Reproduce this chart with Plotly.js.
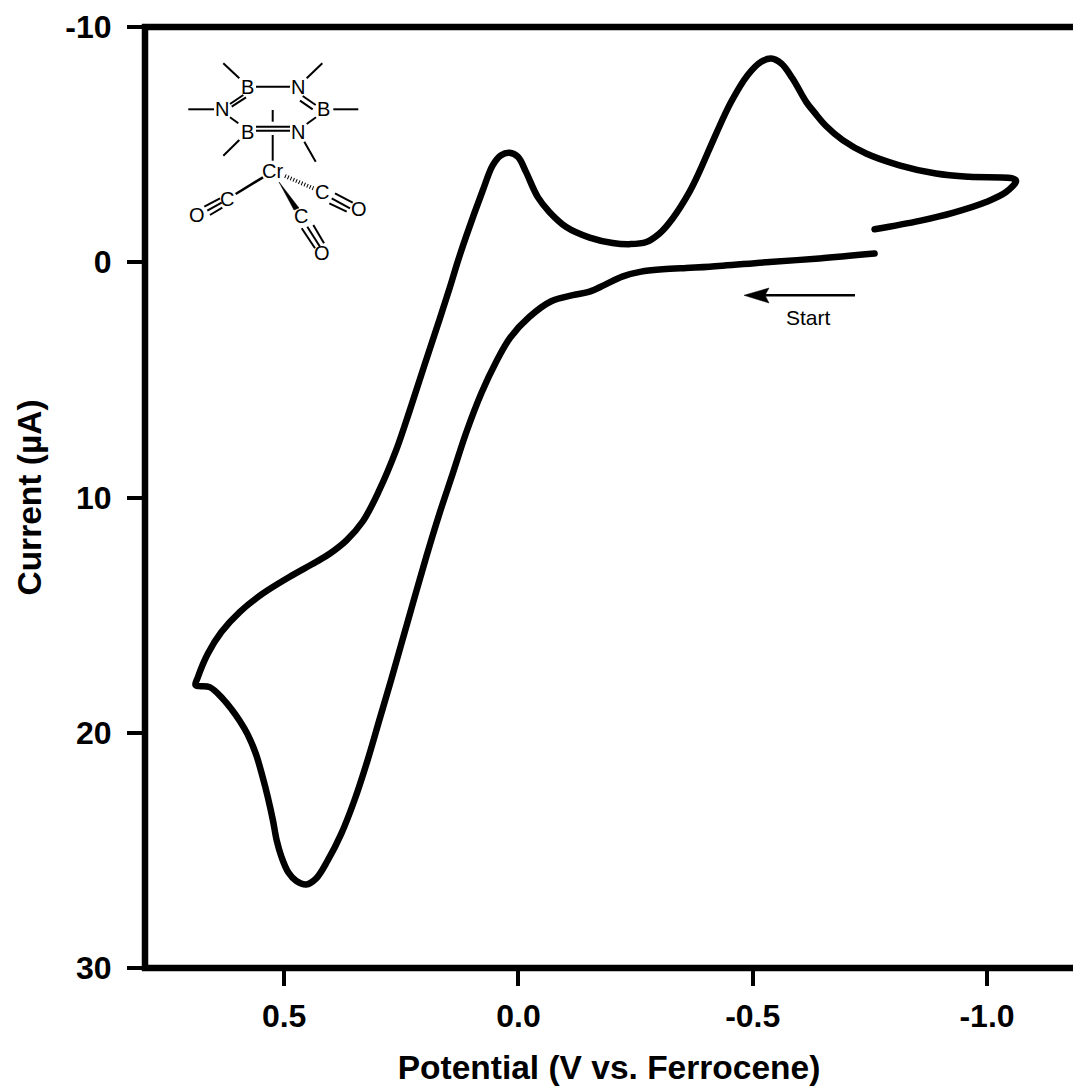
<!DOCTYPE html>
<html>
<head>
<meta charset="utf-8">
<script src="https://cdn.plot.ly/plotly-3.0.1.min.js"></script>
<style>html,body{margin:0;padding:0;background:#fff}#chart{width:1073px;height:1088px}</style>
</head>
<body>
<div id="chart"></div>
<script>
// Cyclic voltammogram: potential (V vs. Fc) and current (uA)
var potential = [-0.760,-0.642,-0.536,-0.408,-0.358,-0.308,-0.262,-0.223,-0.184,-0.152,-0.116,-0.070,-0.023,0.017,0.048,0.079,0.112,0.140,0.169,0.197,0.235,0.272,0.297,0.322,0.350,0.378,0.407,0.432,0.453,0.474,0.491,0.506,0.516,0.524,0.535,0.546,0.560,0.578,0.595,0.612,0.631,0.659,0.689,
 0.684,0.663,0.634,0.595,0.546,0.489,0.432,0.403,0.367,0.332,0.297,0.261,0.233,0.201,0.172,0.147,0.130,0.112,0.076,0.055,0.037,0.019,0.001,-0.016,-0.041,-0.066,-0.102,-0.152,-0.201,-0.237,-0.273,-0.301,-0.329,-0.365,-0.386,-0.422,-0.454,-0.489,-0.518,-0.539,-0.561,-0.585,-0.614,-0.632,-0.657,-0.692,-0.742,-0.813,-0.891,-0.962,-1.055,-1.062,
 -1.041,-0.998,-0.927,-0.856,-0.760];
var current = [-0.37,-0.16,-0.01,0.19,0.24,0.30,0.40,0.60,0.96,1.25,1.40,1.66,2.33,3.19,4.25,5.56,7.27,8.97,10.71,12.54,15.18,17.77,19.47,21.17,22.87,24.29,25.43,26.20,26.45,26.30,25.94,25.26,24.57,23.72,22.73,21.88,20.92,20.07,19.49,19.01,18.55,18.06,17.98,
 17.63,16.64,15.72,14.87,14.09,13.38,12.74,12.39,11.82,11.01,9.69,7.99,6.36,4.40,2.65,1.11,0.00,-1.08,-3.06,-4.12,-4.55,-4.65,-4.48,-3.84,-2.78,-2.14,-1.50,-1.05,-0.82,-0.77,-0.86,-1.22,-1.86,-2.99,-3.84,-5.47,-6.82,-7.95,-8.52,-8.66,-8.45,-7.81,-6.82,-6.36,-5.78,-5.19,-4.62,-4.12,-3.77,-3.63,-3.56,-3.46,
 -2.99,-2.56,-2.10,-1.76,-1.40];
var xTickValues = [0.5,0,-0.5,-1];
var xTickLabels = ['0.5','0.0','-0.5','-1.0'];
var yTickValues = [-10,0,10,20,30];
var yTickLabels = ['-10','0','10','20','30'];
var xTitle = 'Potential (V vs. Ferrocene)';
var yTitle = 'Current (\u00b5A)';
var startLabel = 'Start';

// Page geometry
var W = 1073, H = 1088, L = 145, R = 1073, T = 27, B = 968;
function px(x){return (x-L)/(R-L);}
function py(y){return (B-y)/(B-T);}

// Decoration: the molecule sketch and the arrow, in page pixels
var atoms = [['B',247.3,87.3],['N',298.3,87.3],['B',323.3,109.3],['N',298.3,131.7],['B',247.3,131.7],['N',222.3,109.3],
 ['Cr',272.7,170.7],['C',226.7,199.3],['O',196.7,215],['C',321.7,191.7],['O',359,209],['C',301,215.7],['O',321.7,253.3]];
var bonds = [[223.3,63.3,239.3,78.3],[256,86.7,290,86.7],[322.3,63.3,306.7,78.3],[302.7,96,315.7,105],[300,100.7,312.7,109.3],
 [333.3,109.3,358.3,109.3],[316,117.3,306.7,124],[304.3,141.7,315.7,161.7],[256,126.7,290,126.7],[256,130.7,290,130.7],
 [239.3,140,223.3,155.7],[238.3,123.3,230,117.3],[188.3,109.3,214,109.3],[230,104,243.3,95],[231.7,106.7,246,97.3],
 [272.7,110,272.7,121.7],[272.7,135,272.7,160.7],
 [204.3,206.7,220,198.3],[207.3,210.7,221.7,202.7],[210,215,222.3,207.7],
 [335,193.3,352.7,202.7],[331.7,198.3,350,208.3],[329.3,203.3,346.7,211.7],
 [301.7,228.3,315,248.3],[307.3,226.7,320,246.7],[313.3,225,324,243.3]];
var shapes = [];
function seg(x0,y0,x1,y1,w,dash){
  shapes.push({type:'line',xref:'paper',yref:'paper',x0:px(x0),y0:py(y0),x1:px(x1),y1:py(y1),
    line:{color:'#000',width:w,dash:dash||'solid'}});
}
bonds.forEach(function(b){seg(b[0],b[1],b[2],b[3],2);});
seg(263,177.3,235.7,194,2.6);           // Cr-C left
seg(285,176,313.3,188.3,4,'1px,2px');   // hashed wedge
function poly(points){
  var d = points.map(function(p,i){return (i?'L':'M')+px(p[0])+','+py(p[1]);}).join(' ')+' Z';
  shapes.push({type:'path',xref:'paper',yref:'paper',path:d,fillcolor:'#000',line:{color:'#000',width:0.5}});
}
poly([[279,182],[299,208],[294,210]]);  // solid wedge
// Arrow
seg(855,295.3,763,295.3,2.4);
poly([[744,295.3],[769,288],[765,295.3],[769,303]]);
// Axis frame: left, top, bottom
seg(L,T-3,L,B+3,6.5);
seg(L-3,T,R,T,6.5);
seg(L-3,B,R,B,6.5);

var annotations = atoms.map(function(a){
  return {xref:'paper',yref:'paper',x:px(a[1]),y:py(a[2]),text:a[0],showarrow:false,xanchor:'center',yanchor:'middle',
    font:{family:'Liberation Sans',size:20,color:'#000'}};
});
annotations.push({xref:'paper',yref:'paper',x:px(808),y:py(317.7),text:startLabel,showarrow:false,xanchor:'center',yanchor:'middle',
  font:{family:'Liberation Sans',size:21,color:'#000'}});

var trace = {type:'scatter',mode:'lines',x:potential,y:current,hoverinfo:'skip',
  line:{color:'#000',width:6.5,shape:'spline',smoothing:1.0}};

var tickFont = {family:'Liberation Sans',size:32,color:'#000',weight:700};
var titleFont = {family:'Liberation Sans',size:33.5,color:'#000'};
var layout = {
  width:W,height:H,paper_bgcolor:'#fff',plot_bgcolor:'#fff',showlegend:false,
  margin:{l:L,r:W-R,t:T,b:H-B,pad:0},
  font:{family:'Liberation Sans',color:'#000'},
  xaxis:{range:[0.797,-1.1835],tickmode:'array',tickvals:xTickValues,ticktext:xTickLabels,
    ticks:'outside',ticklen:17,tickwidth:4,tickcolor:'#000',showgrid:false,zeroline:false,showline:false,
    tickfont:tickFont,ticklabelstandoff:3,
    title:{text:'<b>'+xTitle+'</b>',font:titleFont,standoff:22}},
  yaxis:{range:[30,-10],tickmode:'array',tickvals:yTickValues,ticktext:yTickLabels,
    ticks:'outside',ticklen:17,tickwidth:4,tickcolor:'#000',showgrid:false,zeroline:false,showline:false,
    tickfont:tickFont,ticklabelstandoff:9,
    title:{text:'<b>'+yTitle+'</b>',font:titleFont,standoff:13}},
  shapes:shapes,annotations:annotations
};
Plotly.newPlot('chart',[trace],layout,{displayModeBar:false,staticPlot:true}).then(function(){
  var l = document.querySelector('.js-line');
  if(l){l.style.strokeLinecap='round';}
});
</script>
</body>
</html>
